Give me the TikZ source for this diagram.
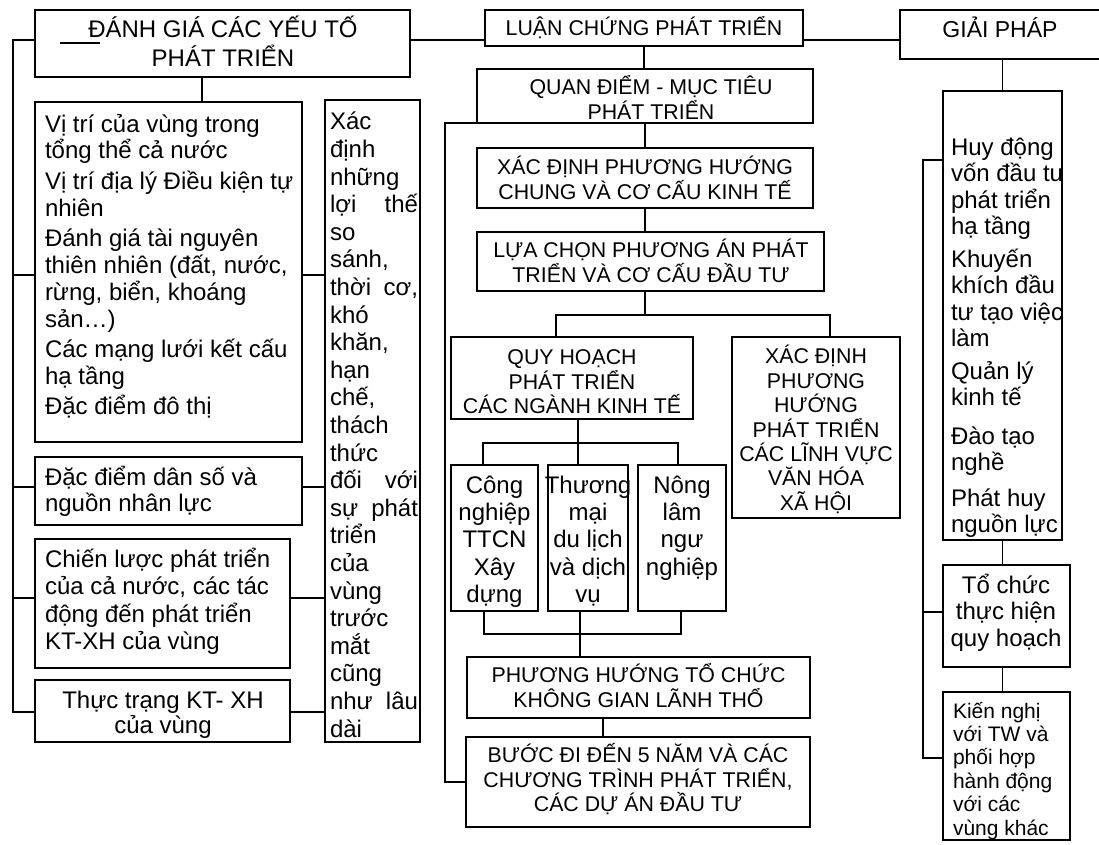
\documentclass[tikz,border=0pt]{standalone}
\usepackage{fontspec}
\setmainfont{Liberation Sans}
\usetikzlibrary{fit,calc}
% fixed-height strut so the top of a text block sits a known distance above its first baseline
\newcommand\lineonetop{\rule{0pt}{1.1em}}
\begin{document}
\begin{tikzpicture}[x=0.75pt,y=-0.75pt,
  box/.style={draw, line width=1.6pt, inner sep=0pt, outer sep=0pt},
  link/.style={line width=1.3pt},
  txt/.style={inner sep=0pt, outer sep=0pt},
  fHead/.style={font=\fontsize{18pt}{21.3pt}\selectfont},
  fL/.style={font=\fontsize{18pt}{20.1pt}\selectfont},
  fLL/.style={font=\fontsize{18pt}{20.7pt}\selectfont},
  fS/.style={font=\fontsize{18pt}{20.5pt}\selectfont},
  fR/.style={font=\fontsize{18pt}{19.9pt}\selectfont},
  fM/.style={font=\fontsize{16pt}{18.3pt}\selectfont},
  fG/.style={font=\fontsize{17.25pt}{20pt}\selectfont},
  fK/.style={font=\fontsize{15.75pt}{17.55pt}\selectfont}]

\fill[white] (0,0) rectangle (1099,845);
\useasboundingbox (0,0) rectangle (1099,845);

% ---------- boxes ----------
\node[box, fit={(35,10) (410,77)}]    (A)  {};
\node[box, fit={(35,102) (302,442)}]  (L1) {};
\node[box, fit={(35,457) (302,525)}]  (L2) {};
\node[box, fit={(35,539) (290,668)}]  (L3) {};
\node[box, fit={(35,680) (290,742)}]  (L4) {};
\node[box, fit={(325,100) (420,742)}] (X)  {};

\node[box, fit={(485,10) (803,46)}]   (B)  {};
\node[box, fit={(477,69) (813,123)}]  (Q)  {};
\node[box, fit={(477,148) (813,208)}] (X2) {};
\node[box, fit={(477,232) (824,291)}] (LC) {};
\node[box, fit={(451,337) (693,419)}] (QH) {};
\node[box, fit={(732,337) (900,518)}] (VH) {};
\node[box, fit={(451,465) (538,611)}] (C1) {};
\node[box, fit={(548,465) (628,611)}] (C2) {};
\node[box, fit={(638,465) (726,611)}] (C3) {};
\node[box, fit={(467,657) (810,718)}] (PH) {};
\node[box, fit={(466,737) (810,827)}] (BD) {};

\node[box, fit={(900,10) (1102,59)}]  (G)  {};
\node[box, fit={(943,91) (1062,540)}] (H)  {};
\node[box, fit={(943,565) (1070,667)}] (T) {};
\node[box, fit={(943,692) (1070,840)}] (K) {};

% ---------- texts: left column ----------
\node[txt, fHead, align=center, anchor=north] (tA) at (223,11.6)
  {\lineonetop ĐÁNH GIÁ CÁC YẾU TỐ\\PHÁT TRIỂN};
\draw[link] (60,43) -- (100,43);

\node[txt, fL, align=left, anchor=north west] (tL1) at (45,105.6)
  {\lineonetop Vị trí của vùng trong\\tổng thể cả nước\\[2.8pt]
   Vị trí địa lý Điều kiện tự\\nhiên\\[2.8pt]
   Đánh giá tài nguyên\\thiên nhiên (đất, nước,\\rừng, biển, khoáng\\sản…)\\[2.8pt]
   Các mạng lưới kết cấu\\hạ tầng\\[2.8pt]
   Đặc điểm đô thị};
\node[txt, font=\fontsize{18pt}{19.5pt}\selectfont, align=left, anchor=north west] (tL2) at (45,458.6)
  {\lineonetop Đặc điểm dân số và\\nguồn nhân lực};
\node[txt, fLL, align=left, anchor=north west] (tL3) at (45,540.6)
  {\lineonetop Chiến lược phát triển\\của cả nước, các tác\\động đến phát triển\\KT-XH của vùng};
\node[txt, font=\fontsize{18pt}{19.2pt}\selectfont, align=center, anchor=north] (tL4) at (163,681.6)
  {\lineonetop Thực trạng KT- XH\\của vùng};

\begin{scope}
  \clip (X.south west) rectangle (X.north east);
  \node[txt, fLL, text width=66pt, align=left, anchor=north west] (tX) at (330,103.6)
    {\lineonetop Xác\\định\\những\\lợi\hfill thế\\so\\sánh,\\thời\hfill cơ,\\khó\\khăn,\\hạn\\chế,\\thách\\thức\\đối\hfill với\\sự\hfill phát\\triển\\của\\vùng\\trước\\mắt\\cũng\\như\hfill lâu\\dài};
\end{scope}

% ---------- texts: middle column ----------
\node[txt, fM, anchor=north] (tB) at (644,12.5) {\lineonetop LUẬN CHỨNG PHÁT TRIỂN};
\node[txt, fM, align=center, anchor=north] (tQ) at (651,71.5)
  {\lineonetop QUAN ĐIỂM - MỤC TIÊU\\PHÁT TRIỂN};
\node[txt, fM, align=center, anchor=north] (tX2) at (645,151.5)
  {\lineonetop XÁC ĐỊNH PHƯƠNG HƯỚNG\\CHUNG VÀ CƠ CẤU KINH TẾ};
\node[txt, fM, align=center, anchor=north] (tLC) at (651,234.5)
  {\lineonetop LỰA CHỌN PHƯƠNG ÁN PHÁT\\TRIỂN VÀ CƠ CẤU ĐẦU TƯ};
\node[txt, fM, align=center, anchor=north] (tQH) at (572,341.5)
  {\lineonetop QUY HOẠCH\\PHÁT TRIỂN\\CÁC NGÀNH KINH TẾ};
\node[txt, fM, align=center, anchor=north] (tVH) at (816,340.5)
  {\lineonetop XÁC ĐỊNH\\PHƯƠNG\\HƯỚNG\\PHÁT TRIỂN\\CÁC LĨNH VỰC\\VĂN HÓA\\XÃ HỘI};
\node[txt, fS, align=center, anchor=north] (tC1) at (494.5,466.6)
  {\lineonetop Công\\nghiệp\\TTCN\\Xây\\dựng};
\node[txt, fS, align=center, anchor=north] (tC2) at (588,466.6)
  {\lineonetop Thương\\mại\\du lịch\\và dịch\\vụ};
\node[txt, fS, align=center, anchor=north] (tC3) at (682,466.6)
  {\lineonetop Nông\\lâm\\ngư\\nghiệp};
\node[txt, fM, align=center, anchor=north] (tPH) at (638.5,659.5)
  {\lineonetop PHƯƠNG HƯỚNG TỔ CHỨC\\KHÔNG GIAN LÃNH THỔ};
\node[txt, fM, align=center, anchor=north] (tBD) at (638,739.5)
  {\lineonetop BƯỚC ĐI ĐẾN 5 NĂM VÀ CÁC\\CHƯƠNG TRÌNH PHÁT TRIỂN,\\CÁC DỰ ÁN ĐẦU TƯ};

% ---------- texts: right column ----------
\node[txt, fG, anchor=north] (tG) at (1000,12.7) {\lineonetop GIẢI PHÁP};
\begin{scope}
  \clip (H.south west) rectangle (H.north east);
  \node[txt, fR, align=left, anchor=north west] (tH) at (951,128.6)
    {\lineonetop Huy động\\vốn đầu tư\\phát triển\\hạ tầng\\[4.5pt]
     Khuyến\\khích đầu\\tư tạo việc\\làm\\[4.5pt]
     Quản lý\\kinh tế\\[9pt]
     Đào tạo\\nghề\\[6.75pt]
     Phát huy\\nguồn lực};
\end{scope}
\node[txt, fR, align=center, anchor=north] (tT) at (1006,566.6)
  {\lineonetop Tổ chức\\thực hiện\\quy hoạch};
\node[txt, fK, align=left, anchor=north west] (tK) at (953,694.9)
  {\lineonetop Kiến nghị\\với TW và\\phối hợp\\hành động\\với các\\vùng khác};

% ---------- connectors: left column ----------
\draw[link] ($(A.south west)+(167,0)$) -- ($(L1.north west)+(167,0)$);
\draw[link] ($(A.north west)+(0,30)$) -- ++(-22,0) |- ($(L4.north west)+(0,32)$);
\coordinate (p1) at ($(L1.north west)+(0,173)$);
\coordinate (p2) at ($(L2.north west)+(0,30)$);
\coordinate (p3) at ($(L3.north west)+(0,59)$);
\foreach \p in {p1,p2,p3} \draw[link] (\p) -- ++(-22,0);
\coordinate (q1) at ($(L1.north east)+(0,173)$);
\coordinate (q2) at ($(L2.north east)+(0,30)$);
\coordinate (q3) at ($(L3.north east)+(0,59)$);
\coordinate (q4) at ($(L4.north east)+(0,32)$);
\foreach \q in {q1,q2,q3,q4} \draw[link] (\q) -- (\q -| X.west);

% ---------- connectors: top row ----------
\draw[link] ($(A.north east)+(0,30)$) -- ($(B.north west)+(0,30)$);
\draw[link] ($(B.north east)+(0,30)$) -- ($(G.north west)+(0,30)$);

% ---------- connectors: middle column ----------
\draw[link] (B.south) -- (B.south |- Q.north);
\draw[link] (Q.south) -- (X2.north);
\draw[link] (X2.south) -- (X2.south |- LC.north);
\draw[link] (X2.south |- LC.south) -- ++(0,24);
\draw[link] ($(QH.north)+(-16,0)$) -- ++(0,-22) -| ($(VH.north)+(14,0)$);
\draw[link] ($(QH.south)+(6,0)$) -- ($(C2.north)+(-10,0)$);
\draw[link] ($(C1.north)+(-11.5,0)$) -- ++(0,-22) -| ($(C3.north)+(-4,0)$);
\draw[link] ($(C1.south)+(-10.5,0)$) -- ++(0,23) -| ($(C3.south)+(-1,0)$);
\draw[link] ($(C2.south)+(-8,0)$) -- ($(C2.south |- PH.north)+(-8,0)$);
\draw[link] ($(PH.south)+(-35.5,0)$) -- ($(BD.north)+(-35,0)$);
\draw[link] (Q.south west) -- ++(-32,0) |- (BD.west);

% ---------- connectors: right column ----------
\draw[link] (H.north) -- (H.north |- G.south);
\draw[link] (H.south) -- (H.south |- T.north);
\draw[link] (H.south |- T.south) -- (H.south |- K.north);
\draw[link] ($(H.north west)+(0,69)$) -- ++(-20,0) |- ($(K.north west)+(0,66)$);
\draw[link] ($(T.north west)+(0,47)$) -- ++(-20,0);

\end{tikzpicture}
\end{document}
